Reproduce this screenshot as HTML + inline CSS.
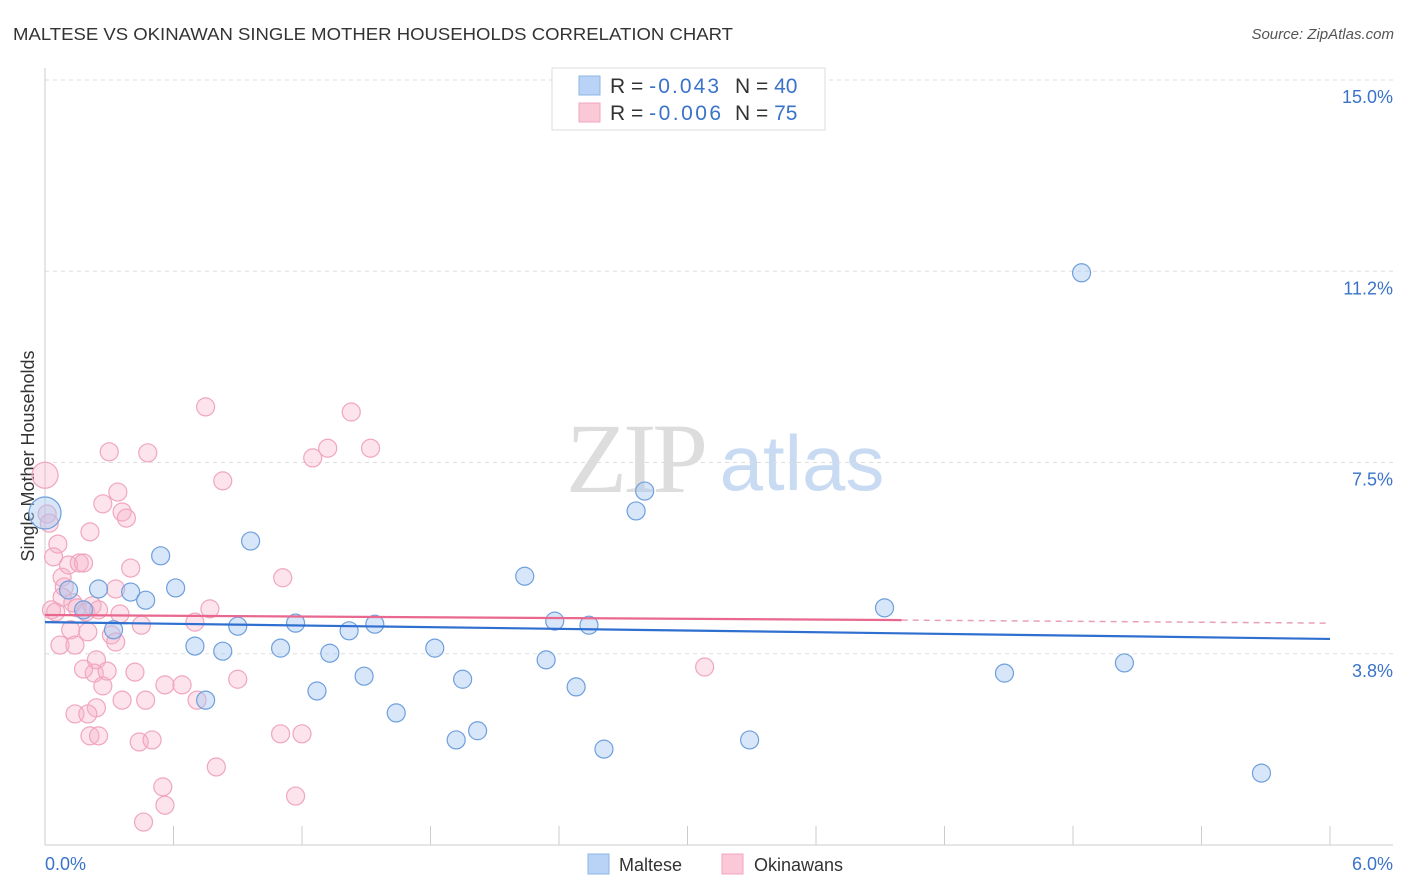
<!DOCTYPE html>
<html><head><meta charset="utf-8"><style>
body{margin:0;background:#fff;font-family:"Liberation Sans",sans-serif;}
svg{display:block}
</style></head><body>
<svg id="chart" width="1406" height="892" xmlns="http://www.w3.org/2000/svg" font-family="Liberation Sans, sans-serif">
<text x="13" y="40" font-size="17.5" fill="#333" textLength="720" lengthAdjust="spacingAndGlyphs">MALTESE VS OKINAWAN SINGLE MOTHER HOUSEHOLDS CORRELATION CHART</text>
<text x="1394" y="39" font-size="15" fill="#555" text-anchor="end" font-style="italic">Source: ZipAtlas.com</text>
<text transform="translate(34,456) rotate(-90)" font-size="18" fill="#333" text-anchor="middle">Single Mother Households</text>
<g>
<text x="635" y="492" font-size="100" fill="#ddd" text-anchor="middle" font-family="Liberation Serif, serif" letter-spacing="-4">ZIP</text>
<text x="802" y="490" font-size="78" fill="#c9dbf2" text-anchor="middle">atlas</text>
</g>
<g id="grid"></g>
<g id="axes"></g>
<g id="points"></g>
<g id="trends"></g>
<g>
<rect x="552" y="68" width="273" height="62" fill="#fff" stroke="#ddd"/>
<rect x="579" y="76" width="21" height="19" fill="#b8d3f5" stroke="#8db4e6"/>
<rect x="579" y="103" width="21" height="19" fill="#fac8d7" stroke="#f0a6be"/>
<text x="610" y="93" font-size="21" fill="#333">R = <tspan fill="#3a73c9" textLength="70">-0.043</tspan><tspan x="735">N = </tspan><tspan fill="#3a73c9">40</tspan></text>
<text x="610" y="120" font-size="21" fill="#333">R = <tspan fill="#3a73c9" textLength="72">-0.006</tspan><tspan x="735">N = </tspan><tspan fill="#3a73c9"> 75</tspan></text>
</g>
<g>
<rect x="588" y="854" width="21" height="20" fill="#b8d3f5" stroke="#8db4e6"/>
<text x="619" y="871" font-size="18" fill="#333">Maltese</text>
<rect x="722" y="854" width="21" height="20" fill="#fac8d7" stroke="#f0a6be"/>
<text x="754" y="871" font-size="18" fill="#333">Okinawans</text>
</g>
</svg>
<script>
const yTicks=[15.0,11.2,7.5,3.8];
const yTickVals=[15,11.25,7.5,3.75];
const xTickLabels=["0.0%","6.0%"];
const blueX=[0.00,0.11,0.18,0.25,0.32,0.40,0.47,0.54,0.61,0.70,0.75,0.83,0.90,0.96,1.10,1.17,1.27,1.33,1.42,1.49,1.54,1.64,1.82,1.92,1.95,2.02,2.24,2.34,2.38,2.48,2.54,2.61,2.76,2.80,3.29,3.92,4.48,4.84,5.04,5.68];
const blueY=[6.51,5.00,4.61,5.02,4.22,4.96,4.80,5.67,5.04,3.90,2.84,3.80,4.29,5.96,3.86,4.35,3.02,3.76,4.20,3.31,4.33,2.59,3.86,2.06,3.25,2.24,5.27,3.63,4.39,3.10,4.31,1.88,6.55,6.94,2.06,4.65,3.37,11.22,3.57,1.41];
const pinkX=[0.00,0.01,0.02,0.03,0.05,0.06,0.04,0.08,0.09,0.11,0.08,0.13,0.12,0.07,0.14,0.15,0.16,0.18,0.20,0.19,0.21,0.22,0.24,0.23,0.18,0.24,0.14,0.20,0.21,0.25,0.27,0.25,0.27,0.30,0.29,0.31,0.33,0.34,0.36,0.38,0.33,0.35,0.40,0.42,0.36,0.48,0.47,0.44,0.50,0.45,0.55,0.56,0.46,0.56,0.64,0.71,0.75,0.77,0.83,0.80,0.90,0.70,1.11,1.10,1.17,1.20,1.25,1.32,1.43,1.52,3.08];
const pinkY=[7.25,6.49,6.31,4.61,4.57,5.90,5.65,5.25,5.06,5.49,4.86,4.75,4.22,3.92,3.92,4.65,5.53,5.53,4.18,4.57,6.14,4.69,3.63,3.37,3.45,2.69,2.57,2.57,2.14,2.14,3.12,4.61,6.69,7.71,3.41,4.12,3.98,6.92,6.53,6.41,5.02,4.53,5.43,3.39,2.84,7.69,2.84,2.02,2.06,4.31,1.14,0.78,0.45,3.14,3.14,2.84,8.59,4.63,7.14,1.53,3.25,4.37,5.24,2.18,0.96,2.18,7.59,7.78,8.49,7.78,3.49];
const blueTrend=[4.37,4.04];
const pinkTrend=[4.51,4.41,4.35];
const pinkSolidEnd=4.0;
const NS="http://www.w3.org/2000/svg";
const X0=45,X1=1330,Y0=845,PXPERY=51;
function sx(v){return X0+(v/6)*(X1-X0);}
function sy(v){return Y0-v*PXPERY;}
function mk(tag,attrs,parent){const e=document.createElementNS(NS,tag);for(const k in attrs)e.setAttribute(k,attrs[k]);parent.appendChild(e);return e;}
const grid=document.getElementById('grid'),axes=document.getElementById('axes'),pts=document.getElementById('points'),tr=document.getElementById('trends');
yTickVals.forEach((v,i)=>{
 const l=mk('line',{x1:45,x2:1393,y1:sy(v),y2:sy(v),stroke:'#ddd','stroke-dasharray':'4,4'},grid);
 
 
 const t=mk('text',{x:1393,y:sy(v)+23,'font-size':18,fill:'#3a73c9','text-anchor':'end'},axes);
 t.textContent=yTicks[i].toFixed(1)+'%';
 
 
});
const ya=mk('line',{x1:45,x2:45,y1:68,y2:845,stroke:'#ccc'},axes);


const xa=mk('line',{x1:45,x2:1393,y1:845,y2:845,stroke:'#ccc'},axes);


for(let i=0;i<=10;i++){
 const tk=mk('line',{x1:sx(i*0.6),x2:sx(i*0.6),y1:826,y2:845,stroke:'#ccc'},axes);
 
 
}
const xl0=mk('text',{x:45,y:870,'font-size':18,fill:'#3a73c9'},axes);xl0.textContent=xTickLabels[0];


const xl1=mk('text',{x:1393,y:870,'font-size':18,fill:'#3a73c9','text-anchor':'end'},axes);xl1.textContent=xTickLabels[1];


pinkX.forEach((x,i)=>{
 const c=mk('circle',{cx:sx(x),cy:sy(pinkY[i]),r:i===0?13:9,fill:'rgba(246,176,200,0.35)',stroke:'#f0a6be','stroke-width':1.2},pts);
 
 
});
blueX.forEach((x,i)=>{
 const c=mk('circle',{cx:sx(x),cy:sy(blueY[i]),r:i===0?16:9,fill:'rgba(166,199,242,0.45)',stroke:'#6f9fdc','stroke-width':1.2},pts);
 
 
});
const bt=mk('line',{x1:sx(0),y1:sy(blueTrend[0]),x2:sx(6),y2:sy(blueTrend[1]),stroke:'#2f6fd0','stroke-width':2.2},tr);


const pt=mk('line',{x1:sx(0),y1:sy(pinkTrend[0]),x2:sx(pinkSolidEnd),y2:sy(pinkTrend[1]),stroke:'#e8688f','stroke-width':2.2},tr);


const pd=mk('line',{x1:sx(pinkSolidEnd),y1:sy(pinkTrend[1]),x2:sx(6),y2:sy(pinkTrend[2]),stroke:'#e8a0b8','stroke-width':1.5,'stroke-dasharray':'6,5'},tr);


</script>
</body></html>
